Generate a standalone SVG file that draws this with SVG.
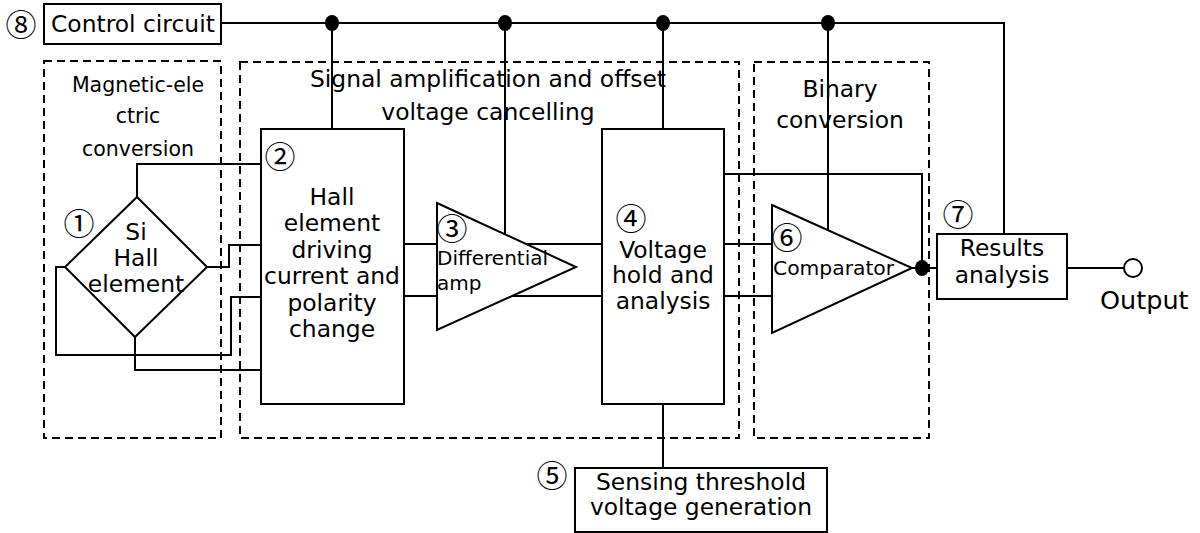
<svg xmlns="http://www.w3.org/2000/svg" width="1200" height="533" viewBox="0 0 1200 533">
<style>
.box{fill:#fff;stroke:#000;stroke-width:2}
.dash{fill:none;stroke:#000;stroke-width:2;stroke-dasharray:8 5}
.w{fill:none;stroke:#000;stroke-width:2}
.dot{fill:#000}
text{font-family:"DejaVu Sans","Noto Sans CJK JP",sans-serif;fill:#000}
.t{font-size:23.4px;text-anchor:middle}
.s{font-size:20.5px;text-anchor:middle}
.n{font-family:"Noto Sans CJK JP","DejaVu Sans",sans-serif;font-size:31px;text-anchor:middle;dominant-baseline:central}
</style>
<rect width="1200" height="533" fill="#fff"/>
<g id="group-magnetic">
<rect class="dash" x="44" y="61" width="177" height="377"/>
<text class="s" x="138" y="92">Magnetic-ele</text>
<text class="s" x="138" y="123">ctric</text>
<text class="s" x="138" y="156">conversion</text>
</g>
<g id="group-signal">
<rect class="dash" x="240" y="62" width="499" height="376"/>
<text class="t" x="488" y="87">Signal amplification and offset</text>
<text class="t" x="488" y="120">voltage cancelling</text>
</g>
<g id="group-binary">
<rect class="dash" x="754" y="62" width="175" height="376"/>
<text class="t" x="840" y="97">Binary</text>
<text class="t" x="840" y="128">conversion</text>
</g>
<g id="connectors">
<polyline class="w" points="221,23 1004,23 1004,234"/>
<line class="w" x1="332" y1="23" x2="332" y2="129"/>
<line class="w" x1="505" y1="23" x2="505" y2="235"/>
<line class="w" x1="663" y1="23" x2="663" y2="129"/>
<line class="w" x1="828" y1="23" x2="828" y2="238"/>
<polyline class="w" points="137,197 137,164 261,164"/>
<polyline class="w" points="207,267 229,267 229,245 261,245"/>
<polyline class="w" points="65,267 56,267 56,355 231,355 231,297 261,297"/>
<polyline class="w" points="135,337 135,370 261,370"/>
<line class="w" x1="404" y1="244" x2="602" y2="244"/>
<line class="w" x1="404" y1="296" x2="602" y2="296"/>
<line class="w" x1="724" y1="244" x2="772" y2="244"/>
<line class="w" x1="724" y1="296" x2="772" y2="296"/>
<polyline class="w" points="724,174 922,174 922,268"/>
<line class="w" x1="912" y1="268" x2="937" y2="268"/>
<line class="w" x1="663" y1="404" x2="663" y2="468"/>
<line class="w" x1="1067" y1="268" x2="1124" y2="268"/>
<ellipse class="dot" cx="332" cy="23" rx="7" ry="8"/>
<ellipse class="dot" cx="505" cy="23" rx="7" ry="8"/>
<ellipse class="dot" cx="663" cy="23" rx="7" ry="8"/>
<ellipse class="dot" cx="828" cy="23" rx="7" ry="8"/>
<ellipse class="dot" cx="922" cy="268" rx="7" ry="8"/>
</g>
<g id="node-8">
<rect class="box" x="44" y="4" width="177" height="40"/>
<text x="51" y="32" style="font-size:23.4px">Control circuit</text>
<text class="n" x="21" y="22">⑧</text>
</g>
<g id="node-1">
<polygon class="box" points="137,197 207,267 135,337 65,267"/>
<text class="t" x="136" y="240">Si</text>
<text class="t" x="136" y="266">Hall</text>
<text class="t" x="136" y="292">element</text>
<text class="n" x="79" y="221">①</text>
</g>
<g id="node-2">
<rect class="box" x="261" y="129" width="143" height="275"/>
<text class="n" x="280" y="154">②</text>
<text class="t" x="332" y="205">Hall</text>
<text class="t" x="332" y="231">element</text>
<text class="t" x="332" y="258">driving</text>
<text class="t" x="332" y="284">current and</text>
<text class="t" x="332" y="311">polarity</text>
<text class="t" x="332" y="337">change</text>
</g>
<g id="node-3">
<polygon class="box" points="437,203 576,267 437,330"/>
<text class="n" x="452" y="226">③</text>
<text x="437" y="265" style="font-size:20px">Differential</text>
<text x="437" y="290" style="font-size:20px">amp</text>
</g>
<g id="node-4">
<rect class="box" x="602" y="129" width="122" height="275"/>
<text class="n" x="631" y="216">④</text>
<text class="t" x="663" y="258">Voltage</text>
<text class="t" x="663" y="283">hold and</text>
<text class="t" x="663" y="309">analysis</text>
</g>
<g id="node-5">
<rect class="box" x="575" y="468" width="252" height="64"/>
<text class="n" x="552" y="473">⑤</text>
<text class="t" x="701" y="490">Sensing threshold</text>
<text class="t" x="701" y="515">voltage generation</text>
</g>
<g id="node-6">
<polygon class="box" points="772,205 912,268 772,333"/>
<text class="n" x="787" y="235">⑥</text>
<text x="773" y="275" style="font-size:20.3px">Comparator</text>
</g>
<g id="node-7">
<rect class="box" x="937" y="234" width="130" height="65"/>
<text class="n" x="958" y="212">⑦</text>
<text class="t" x="1002" y="256">Results</text>
<text class="t" x="1002" y="283">analysis</text>
</g>
<g id="node-output">
<circle cx="1133" cy="268" r="9" fill="#fff" stroke="#000" stroke-width="2"/>
<text x="1100" y="309" style="font-size:25.5px">Output</text>
</g>
</svg>
